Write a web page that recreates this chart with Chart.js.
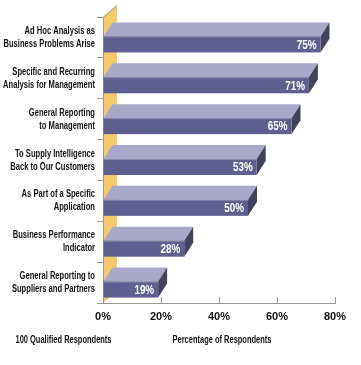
<!DOCTYPE html>
<html>
<head>
<meta charset="utf-8">
<script src="https://cdn.jsdelivr.net/npm/chart.js@4.4.1/dist/chart.umd.min.js"></script>
<style>
  html, body { margin: 0; padding: 0; background: #fff; }
  #wrap { width: 361px; height: 365px; }
</style>
</head>
<body>
<div id="wrap"><canvas id="chart"></canvas></div>
<script>
const categories = [
    ['Ad Hoc Analysis as', 'Business Problems Arise'],
    ['Specific and Recurring', 'Analysis for Management'],
    ['General Reporting', 'to Management'],
    ['To Supply Intelligence', 'Back to Our Customers'],
    ['As Part of a Specific', 'Application'],
    ['Business Performance', 'Indicator'],
    ['General Reporting to', 'Suppliers and Partners']
];
const percentages = [75, 71, 65, 53, 50, 28, 19];
const tickValues = [0, 20, 40, 60, 80];
const axisTitle = 'Percentage of Respondents';
const footnote = '100 Qualified Respondents';

const FONT = "'Liberation Sans', Arial, sans-serif";
const frontColor = '#5f5f8f';
const topColor = '#a9a8c8';
const sideColor = '#42425a';
const wallColor = '#f6c96b';
const lineColor = '#9a9a9a';
const textColor = '#111111';
const DX = 9, DY = 14;

// the original uses a condensed bold face, so squeeze text sideways
function squeezed(ctx, text, x, y, align, size, sx, color) {
    ctx.save();
    ctx.translate(x, y);
    ctx.scale(sx, 1);
    ctx.font = 'bold ' + size + 'px ' + FONT;
    ctx.fillStyle = color;
    ctx.textAlign = align;
    ctx.textBaseline = 'middle';
    ctx.fillText(text, 0, 0);
    ctx.restore();
}

const depthPlugin = {
    id: 'depth',
    beforeDraw(chart) {
        const {ctx, chartArea} = chart;
        const x0 = chart.scales.x.getPixelForValue(0);
        ctx.save();
        ctx.fillStyle = wallColor;
        ctx.beginPath();
        ctx.moveTo(x0, chartArea.top);
        ctx.lineTo(x0 + 14, chartArea.top - 12);
        ctx.lineTo(x0 + 14, chartArea.bottom - 12);
        ctx.lineTo(x0, chartArea.bottom);
        ctx.closePath();
        ctx.fill();
        ctx.strokeStyle = lineColor;
        ctx.lineWidth = 1;
        ctx.beginPath();
        ctx.moveTo(x0, chartArea.top + 0.5);
        ctx.lineTo(x0 + 14, chartArea.top - 11.5);
        ctx.stroke();
        ctx.restore();
    },
    afterDatasetsDraw(chart) {
        const {ctx} = chart;
        const meta = chart.getDatasetMeta(0);
        ctx.save();
        meta.data.forEach((el, i) => {
            const p = el.getProps(['x', 'y', 'base', 'height'], true);
            const top = p.y - p.height / 2;
            const bottom = p.y + p.height / 2;
            const fTop = top + DY;
            const x0 = p.base, x1 = p.x;
            // top face
            ctx.fillStyle = topColor;
            ctx.beginPath();
            ctx.moveTo(x0, fTop);
            ctx.lineTo(x0 + DX, top);
            ctx.lineTo(x1 + DX, top);
            ctx.lineTo(x1, fTop);
            ctx.closePath();
            ctx.fill();
            // side face
            ctx.fillStyle = sideColor;
            ctx.beginPath();
            ctx.moveTo(x1, fTop);
            ctx.lineTo(x1 + DX, top);
            ctx.lineTo(x1 + DX, bottom - DY);
            ctx.lineTo(x1, bottom);
            ctx.closePath();
            ctx.fill();
            // front face
            ctx.fillStyle = frontColor;
            ctx.fillRect(x0, fTop, x1 - x0, bottom - fTop);
            ctx.fillStyle = '#8686aa';
            ctx.fillRect(x0, fTop, x1 - x0, 1);
            squeezed(ctx, percentages[i] + '%', x1 - 4, (fTop + bottom) / 2 + 1, 'right', 12, 0.82, '#ffffff');
        });
        ctx.restore();
    },
    afterDraw(chart) {
        const {ctx, chartArea} = chart;
        const xs = chart.scales.x;
        const ys = chart.scales.y;
        ctx.save();
        ctx.strokeStyle = lineColor;
        ctx.lineWidth = 1;
        tickValues.forEach(v => {
            if (v === 0) return;
            const px = Math.round(xs.getPixelForValue(v)) + 0.5;
            ctx.beginPath();
            ctx.moveTo(px, chartArea.bottom);
            ctx.lineTo(px, chartArea.bottom - 6);
            ctx.stroke();
        });
        ctx.restore();
        // category labels, two lines each
        categories.forEach((lines, i) => {
            const cy = ys.getPixelForValue(i);
            lines.forEach((line, j) => {
                const ly = cy + (j - (lines.length - 1) / 2) * 13;
                squeezed(ctx, line, chartArea.left - 8, ly, 'right', 11, 0.69, textColor);
            });
        });
        squeezed(ctx, axisTitle, (chartArea.left + chartArea.right) / 2 + 3, 340, 'center', 11, 0.68, textColor);
        squeezed(ctx, footnote, 63.5, 340, 'center', 11, 0.68, textColor);
    }
};

new Chart(document.getElementById('chart'), {
    type: 'bar',
    data: {
        labels: categories,
        datasets: [{
            data: percentages,
            backgroundColor: 'rgba(0,0,0,0)',
            borderWidth: 0,
            barThickness: 30
        }]
    },
    options: {
        indexAxis: 'y',
        responsive: true,
        maintainAspectRatio: false,
        animation: false,
        layout: { padding: { top: 17, right: 26, left: 0, bottom: 0 } },
        plugins: {
            legend: { display: false },
            tooltip: { enabled: false }
        },
        scales: {
            x: {
                min: 0,
                max: 80,
                afterFit: s => { s.height = 62; },
                afterBuildTicks: s => { s.ticks = tickValues.map(v => ({value: v})); },
                border: { color: lineColor },
                grid: { drawOnChartArea: false, drawTicks: false },
                ticks: {
                    padding: 7,
                    color: textColor,
                    font: { family: FONT, size: 11, weight: 'bold' },
                    callback: v => v + '%'
                }
            },
            y: {
                afterFit: s => { s.width = 103; },
                border: { color: lineColor },
                grid: { drawOnChartArea: false, tickLength: 6, color: lineColor },
                ticks: { display: false }
            }
        }
    },
    plugins: [depthPlugin]
});
</script>
</body>
</html>
